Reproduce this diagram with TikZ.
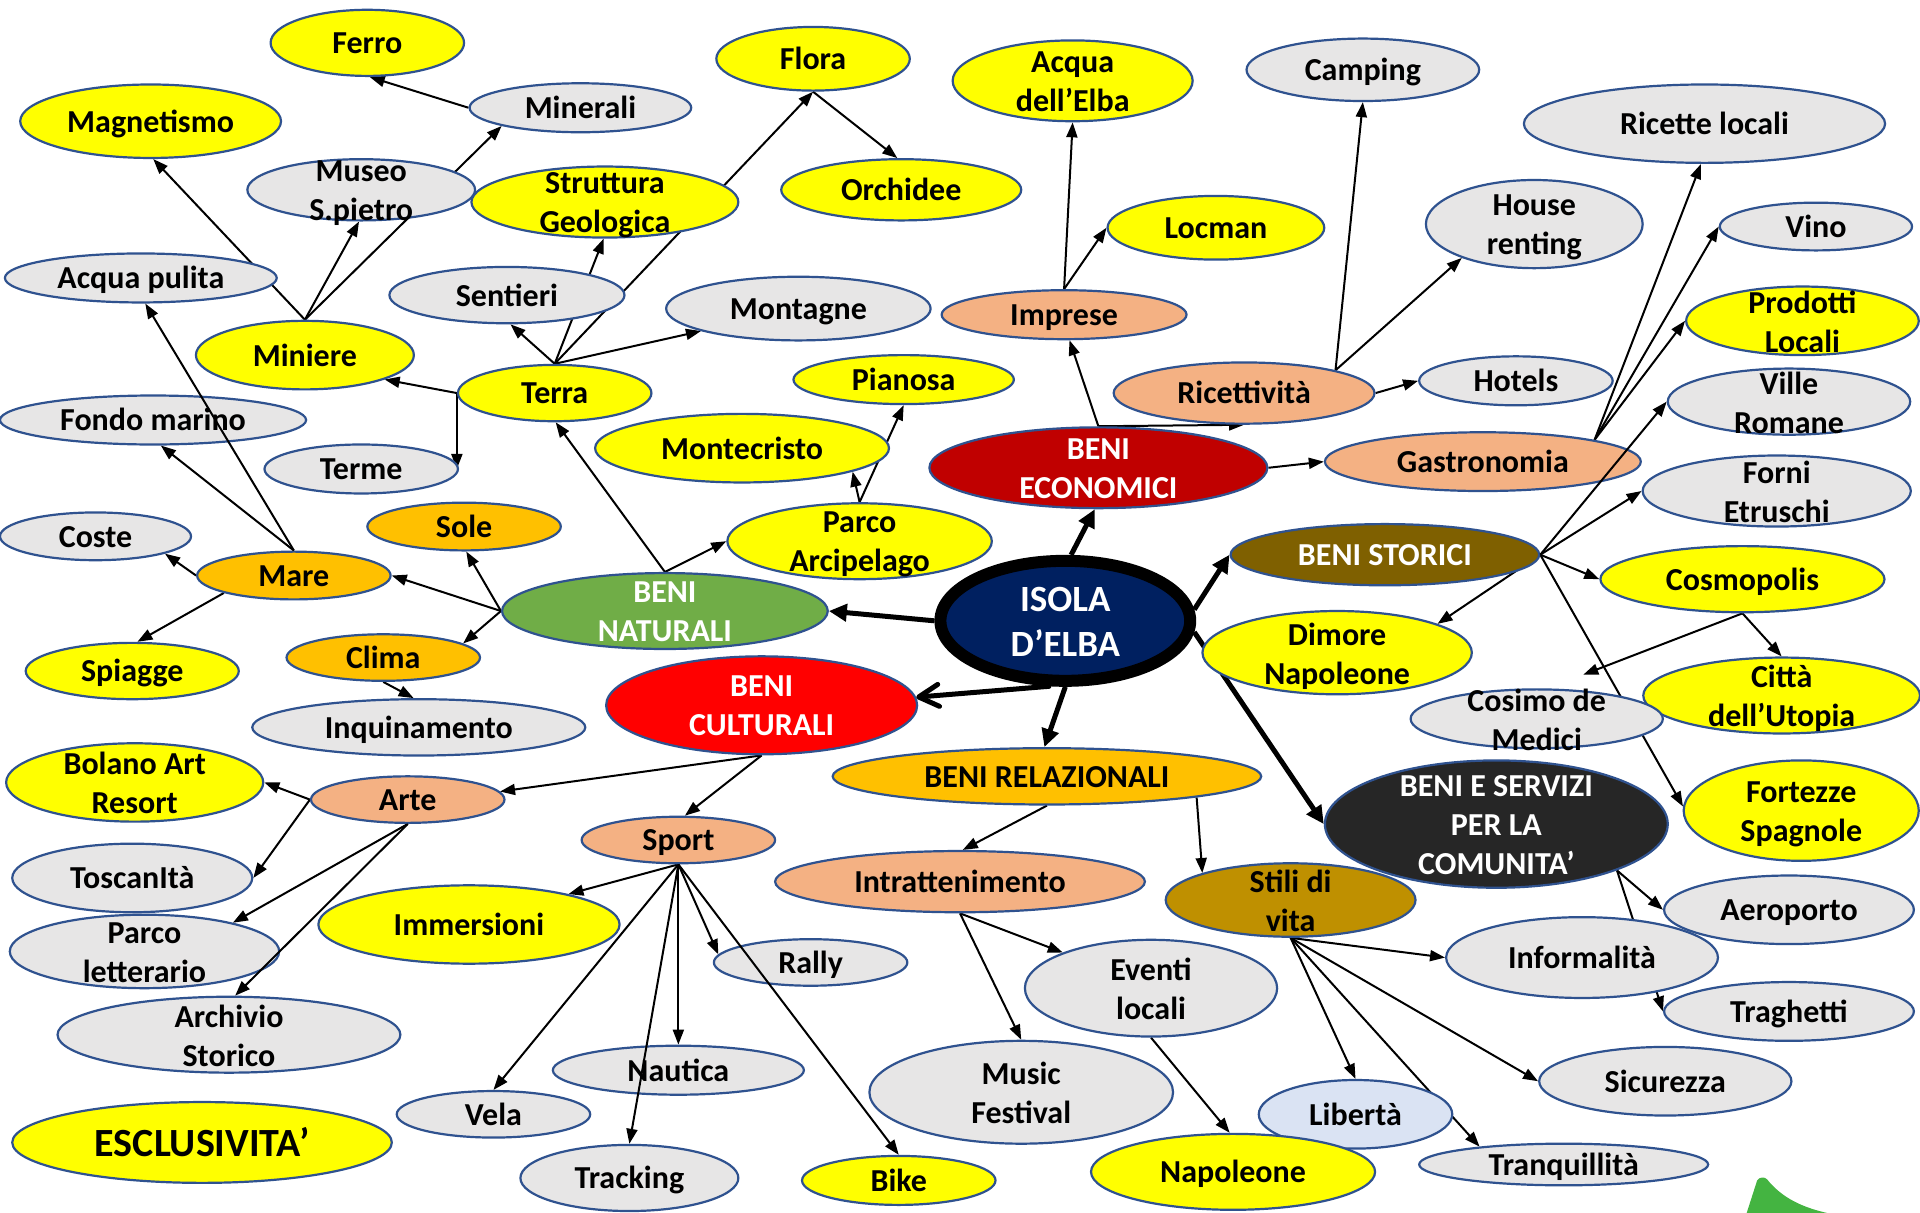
\documentclass[tikz,border=0pt]{standalone}
\usepackage{fontspec}
\setmainfont{Carlito}
\usetikzlibrary{shapes.geometric,arrows.meta,backgrounds}
\newcommand\lstrut{\rule[-0.269em]{0pt}{1.221em}}
\definecolor{edge}{HTML}{2F528F}
\definecolor{yel}{HTML}{FFFF00}
\definecolor{gry}{HTML}{E7E6E6}
\definecolor{sal}{HTML}{F4B183}
\definecolor{org}{HTML}{FFC000}
\definecolor{dred}{HTML}{C00000}
\definecolor{cred}{HTML}{FF0000}
\definecolor{grn}{HTML}{70AD47}
\definecolor{brn}{HTML}{7F6000}
\definecolor{gld}{HTML}{BF9000}
\definecolor{drk}{HTML}{262626}
\definecolor{navy}{HTML}{002060}
\definecolor{lblue}{HTML}{DAE3F3}
\definecolor{leaf}{HTML}{44B441}
\begin{document}
\begin{tikzpicture}[x=1.2245pt,y=-1.2245pt,
  lbl/.style={font=\bfseries\fontsize{32}{39}\selectfont, align=center, inner sep=0pt, text=black,
    execute at begin node=\lstrut, execute at end node=\lstrut},
  ml/.style={yshift=-5pt},
  bub/.style n args={5}{ellipse, draw=edge, line width=2.2pt, fill=#1,
    minimum width=#2*1.2245pt, minimum height=#3*1.2245pt, inner sep=0pt,
    label={[lbl,#5]center:{#4}}},
  arr/.style={line width=2pt, -{Triangle[length=15pt,width=11pt]}},
  big/.style={line width=5pt, -{Triangle[length=18pt,width=17pt]}},
  barb/.style={line width=5pt, line cap=round, -{Straight Barb[length=20pt,width=22pt,round]}},
]
\useasboundingbox (0,0) rectangle (1568,990);
\begin{pgfonlayer}{background}
  \fill[white] (0,0) rectangle (1568,990);
\end{pgfonlayer}

% ---- nodes ----
\node[bub={yel}{158}{54}{Ferro}{}] (ferro) at (300,35) {};
\node[bub={gry}{181}{40}{Minerali}{}] (minerali) at (474,88) {};
\node[bub={yel}{213}{60}{Magnetismo}{}] (magnet) at (123,99) {};
\node[bub={gry}{186}{50}{Museo\\S.pietro}{ml}] (museo) at (295,155) {};
\node[bub={yel}{218}{58}{Struttura\\Geologica}{ml}] (strutt) at (494,165) {};
\node[bub={yel}{158}{52}{Flora}{}] (flora) at (664,48) {};
\node[bub={yel}{196}{50}{Orchidee}{}] (orchid) at (736,155) {};
\node[bub={yel}{196}{66}{Acqua\\dell’Elba}{ml}] (acquaelba) at (876,66) {};
\node[bub={gry}{190}{51}{Camping}{}] (camping) at (1113,57) {};
\node[bub={gry}{295}{64}{Ricette locali}{}] (ricette) at (1392,101) {};
\node[bub={gry}{177}{72}{House\\renting}{ml}] (house) at (1253,183) {};
\node[bub={yel}{177}{52}{Locman}{}] (locman) at (993,186) {};
\node[bub={gry}{157}{39}{Vino}{}] (vino) at (1483,185) {};
\node[bub={sal}{200}{40}{Imprese}{}] (imprese) at (869,257) {};
\node[bub={yel}{190}{56}{Prodotti\\Locali}{ml}] (prodotti) at (1472,262) {};
\node[bub={sal}{213}{50}{Ricettività}{}] (ricett) at (1016,321) {};
\node[bub={gry}{158}{40}{Hotels}{}] (hotels) at (1238,311) {};
\node[bub={gry}{198}{54}{Ville\\Romane}{ml}] (ville) at (1461,328) {};
\node[bub={dred}{276}{66}{BENI\\ECONOMICI}{ml,text=white}] (econ) at (897,382) {};
\node[bub={sal}{258}{48}{Gastronomia}{}] (gastro) at (1211,377) {};
\node[bub={gry}{219}{58}{Forni\\Etruschi}{ml}] (forni) at (1451,401) {};
\node[bub={brn}{252}{50}{BENI STORICI}{text=white}] (storici) at (1131,453) {};
\node[bub={yel}{232}{54}{Cosmopolis}{}] (cosmo) at (1423,473) {};
\node[bub={navy}{204}{98}{ISOLA\\D’ELBA}{yshift=-6pt,text=white,font=\bfseries\fontsize{37}{45}\selectfont},
      draw=black, line width=12pt] (isola) at (870,507) {};
\node[bub={yel}{220}{68}{Dimore\\Napoleone}{ml}] (dimore) at (1092,533) {};
\node[bub={yel}{226}{62}{Città\\dell’Utopia}{ml}] (citta) at (1455,568) {};
\node[bub={gry}{206}{48}{Cosimo de\\Medici}{ml}] (cosimo) at (1255,587) {};
\node[bub={grn}{266}{62}{BENI\\NATURALI}{ml,text=white}] (naturali) at (543,499) {};
\node[bub={org}{158}{39}{Mare}{}] (mare) at (240,470) {};
\node[bub={org}{158}{39}{Sole}{}] (sole) at (379,430) {};
\node[bub={gry}{156}{39}{Coste}{}] (coste) at (78,438) {};
\node[bub={org}{158}{38}{Clima}{}] (clima) at (313,537) {};
\node[bub={yel}{174}{46}{Spiagge}{}] (spiagge) at (108,548) {};
\node[bub={gry}{272}{46}{Inquinamento}{}] (inquin) at (342,594) {};
\node[bub={cred}{254}{80}{BENI\\CULTURALI}{ml,text=white}] (cultur) at (622,576) {};
\node[bub={org}{350}{46}{BENI RELAZIONALI}{}] (relaz) at (855,634) {};
\node[bub={drk}{280}{104}{BENI E SERVIZI\\PER LA\\COMUNITA’}{ml,text=white}] (servizi) at (1222,673) {};
\node[bub={yel}{192}{82}{Fortezze\\Spagnole}{ml}] (fortezze) at (1471,662) {};
\node[bub={yel}{210}{64}{Bolano Art\\Resort}{ml}] (bolano) at (110,639) {};
\node[bub={sal}{158}{38}{Arte}{}] (arte) at (333,653) {};
\node[bub={sal}{158}{38}{Sport}{}] (sport) at (554,686) {};
\node[bub={sal}{302}{50}{Intrattenimento}{}] (intratt) at (784,720) {};
\node[bub={gry}{196}{56}{ToscanItà}{}] (tosc) at (108,717) {};
\node[bub={yel}{246}{64}{Immersioni}{}] (immers) at (383,755) {};
\node[bub={gry}{220}{60}{Parco\\letterario}{ml}] (parcolet) at (118,777) {};
\node[bub={gry}{158}{38}{Rally}{}] (rally) at (662,786) {};
\node[bub={gry}{280}{62}{Archivio\\Storico}{ml}] (archivio) at (187,845) {};
\node[bub={gry}{205}{40}{Nautica}{}] (nautica) at (554,874) {};
\node[bub={gry}{158}{38}{Vela}{}] (vela) at (403,910) {};
\node[bub={gry}{178}{54}{Tracking}{}] (tracking) at (514,962) {};
\node[bub={yel}{158}{40}{Bike}{}] (bike) at (734,964) {};
\node[bub={yel}{310}{66}{ESCLUSIVITA’}{font=\bfseries\fontsize{40}{48}\selectfont}] (esclus) at (165,933) {};
\node[bub={gry}{206}{79}{Eventi\\locali}{ml}] (eventi) at (940,807) {};
\node[bub={gld}{204}{60}{Stili di\\vita}{ml}] (stili) at (1054,735) {};
\node[bub={gry}{204}{56}{Aeroporto}{}] (aero) at (1461,743) {};
\node[bub={gry}{222}{66}{Informalità}{}] (inform) at (1292,782) {};
\node[bub={gry}{204}{48}{Traghetti}{}] (traghetti) at (1461,826) {};
\node[bub={gry}{248}{84}{Music\\Festival}{ml}] (music) at (834,892) {};
\node[bub={gry}{206}{56}{Sicurezza}{}] (sicur) at (1360,883) {};
\node[bub={lblue}{158}{56}{Libertà}{}] (liberta) at (1107,910) {};
\node[bub={yel}{232}{62}{Napoleone}{}] (napoleone) at (1007,957) {};
\node[bub={gry}{236}{34}{Tranquillità}{}] (tranq) at (1277,951) {};
\node[bub={gry}{222}{40}{Acqua pulita}{}] (acquapul) at (115,227) {};
\node[bub={gry}{192}{46}{Sentieri}{}] (sentieri) at (414,241) {};
\node[bub={gry}{216}{52}{Montagne}{}] (montagne) at (652,252) {};
\node[bub={yel}{178}{56}{Miniere}{}] (miniere) at (249,290) {};
\node[bub={yel}{158}{46}{Terra}{}] (terra) at (453,321) {};
\node[bub={yel}{180}{40}{Pianosa}{}] (pianosa) at (738,310) {};
\node[bub={gry}{250}{40}{Fondo marino}{}] (fondo) at (125,343) {};
\node[bub={gry}{158}{40}{Terme}{}] (terme) at (295,383) {};
\node[bub={yel}{240}{56}{Montecristo}{}] (montecr) at (606,366) {};
\node[bub={yel}{216}{62}{Parco\\Arcipelago}{ml}] (parcoarc) at (702,442) {};
\coordinate (cosimotip) at (1293,551);

% ---- connectors running behind the bubbles ----
\begin{pgfonlayer}{background}
  % natural resources
  \draw[arr] (minerali.180) -- (ferro.-86);
  \draw[arr] (miniere.north) -- (magnet.-86);
  \draw[arr] (miniere.north) -- (museo.-94);
  \draw[arr] (miniere.north) -- (minerali.193);
  \draw[arr] (terra.north) -- (sentieri.-83);
  \draw[arr] (terra.north) -- (strutt.-92);
  \draw[arr] (terra.north) -- (montagne.193);
  \draw[arr] (terra.north) -- (flora.south);
  \draw[arr] (flora.south) -- (orchid.97);
  \draw[arr] (terra.west) -- (miniere.-17);
  \draw[arr] (terra.west) -- (terra.west |- terme.east);
  \draw[arr] (mare.north) -- (fondo.-73);
  \draw[arr] (mare.west) -- (coste.-14);
  \draw[arr] (mare.194) -- (spiagge.80);
  \draw[arr] (naturali.west) -- (mare.east);
  \draw[arr] (naturali.west) -- (sole.-85);
  \draw[arr] (naturali.west) -- (clima.10);
  \draw[arr] (naturali.north) -- (terra.-88);
  \draw[arr] (naturali.north) -- (parcoarc.west);
  \draw[arr] (parcoarc.north) -- (montecr.-12);
  \draw[arr] (parcoarc.north) -- (pianosa.south);
  \draw[arr] (clima.south) -- (inquin.100);
  % cultural resources
  \draw[arr] (cultur.south) -- (arte.5);
  \draw[arr] (cultur.south) -- (sport.75);
  \draw[arr] (arte.west) -- (bolano.east);
  \draw[arr] (arte.west) -- (tosc.east);
  \draw[arr] (arte.south) -- (parcolet.18);
  \draw[arr] (sport.south) -- (immers.17);
  \draw[arr] (sport.south) -- (vela.north);
  \draw[arr] (sport.south) -- (nautica.north);
  \draw[arr] (sport.south) -- (rally.175);
  % relational resources
  \draw[arr] (relaz.south) -- (intratt.85);
  \draw[arr] (relaz.-8) -- (stili.163);
  \draw[arr] (intratt.south) -- (eventi.158);
  \draw[arr] (intratt.south) -- (music.north);
  \draw[arr] (eventi.south) -- (napoleone.95);
  \draw[arr] (stili.south) -- (inform.west);
  \draw[arr] (stili.south) -- (liberta.north);
  \draw[arr] (stili.south) -- (tranq.168);
  \draw[arr] (stili.south) -- (sicur.west);
  % community services
  \draw[arr] (servizi.-21) -- (aero.west);
  \draw[arr] (servizi.-21) -- (traghetti.west);
  % historical resources
  \draw[arr] (storici.east) -- (forni.west);
  \draw[arr] (storici.east) -- (cosmo.west);
  \draw[arr] (storici.east) -- (dimore.16);
  \draw[arr] (storici.east) -- (fortezze.178);
  \draw[arr] (cosmo.south) -- (cosimotip);
  \draw[arr] (cosmo.south) -- (citta.north);
  % economic resources
  \draw[arr] (econ.north) -- (imprese.-78);
  \draw[arr] (econ.north) -- (ricett.south);
  \draw[arr] (econ.east) -- (gastro.west);
  \draw[arr] (imprese.north) -- (acquaelba.south);
  \draw[arr] (imprese.north) -- (locman.west);
  \draw[arr] (ricett.14) -- (camping.south);
  \draw[arr] (ricett.14) -- (house.205);
  \draw[arr] (ricett.east) -- (hotels.west);
  \draw[arr] (gastro.11) -- (ricette.-95);
  \draw[arr] (gastro.11) -- (vino.west);
  \draw[arr] (gastro.11) -- (prodotti.west);
  % main branches from the island
  \draw[big] (isola.85) -- (econ.-95);
  \draw[big] (isola.west) -- (naturali.east);
  \draw[barb] (isola.-104) -- (cultur.3);
  \draw[big] (isola.south) -- (relaz.95);
  \draw[big] (isola.5) -- (storici.west);
  \draw[big] (isola.-5) -- (servizi.west);
\end{pgfonlayer}

% ---- connectors crossing over bubbles ----
\draw[arr] (mare.north) -- (acquapul.-80);
\draw[arr] (sport.south) -- (tracking.north);
\draw[arr] (sport.south) -- (bike.north);
\draw[arr] (arte.south) -- (archivio.81);
\draw[arr] (storici.east) -- (ville.west);

% corner leaf
\fill[leaf] (1426,992) -- (1435,964) .. controls (1437,961) and (1441,961) .. (1443,963)
  .. controls (1455,978) and (1472,987) .. (1499,992) -- cycle;
\end{tikzpicture}
\end{document}
